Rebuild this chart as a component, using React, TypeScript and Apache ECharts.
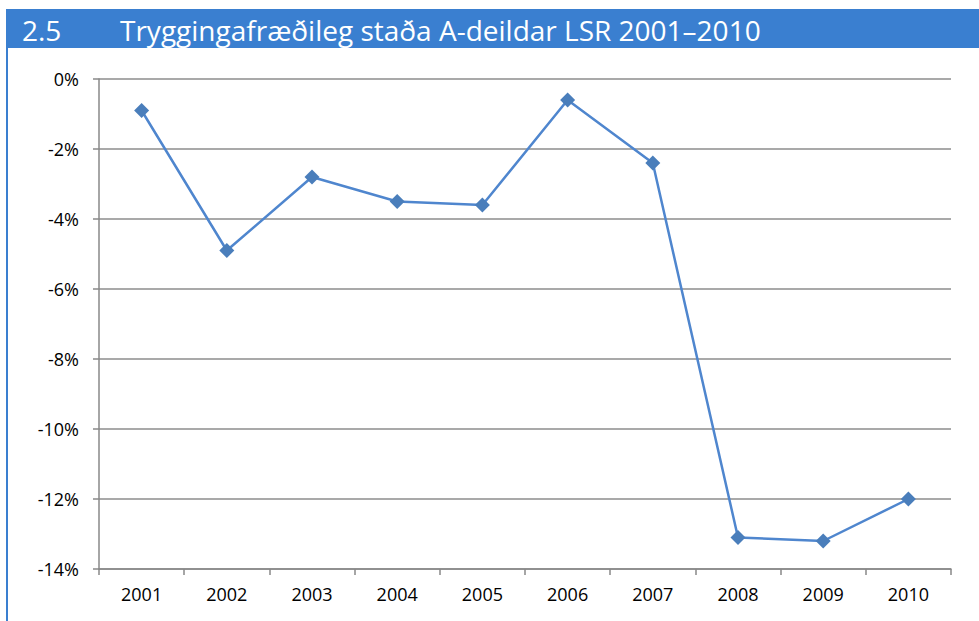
import React, { useEffect, useRef } from "react";
import * as echarts from "echarts";

const years = ["2001", "2002", "2003", "2004", "2005", "2006", "2007", "2008", "2009", "2010"];
const values = [-0.9, -4.9, -2.8, -3.5, -3.6, -0.6, -2.4, -13.1, -13.2, -12.0];
const titleNumber = "2.5";
const titleText = "Tryggingafræðileg staða A-deildar LSR 2001–2010";

const FONT = "'Open Sans', 'Noto Sans', sans-serif";

export default function App() {
  const ref = useRef<HTMLDivElement>(null);
  useEffect(() => {
    if (!ref.current) return;
    const chart = echarts.init(ref.current, undefined, { renderer: "svg" });
    chart.setOption({
      animation: false,
      backgroundColor: "#ffffff",
      grid: { left: 99, top: 79, right: 28, bottom: 52 },
      graphic: [
        { type: "rect", shape: { x: 6, y: 9, width: 973, height: 39 }, style: { fill: "#3A7FD0" } },
        { type: "rect", shape: { x: 6, y: 48, width: 2, height: 573 }, style: { fill: "#3A7FD0" } },
        { type: "text", x: 22, y: 30, style: { text: titleNumber, fill: "#ffffff", font: `28px ${FONT}`, textVerticalAlign: "middle" } },
        { type: "text", x: 120, y: 30, style: { text: titleText, fill: "#ffffff", font: `28px ${FONT}`, textVerticalAlign: "middle" } },
      ],
      xAxis: {
        type: "category",
        data: years,
        boundaryGap: true,
        axisLine: { onZero: false, lineStyle: { color: "#888888", width: 1.5 } },
        axisTick: { show: true, length: 6, lineStyle: { color: "#888888", width: 1.5 } },
        axisLabel: { color: "#000000", fontSize: 18, fontFamily: FONT, margin: 16 },
      },
      yAxis: {
        type: "value",
        min: -14,
        max: 0,
        interval: 2,
        axisLine: { show: true, lineStyle: { color: "#888888", width: 1.5 } },
        axisTick: { show: true, length: 6, lineStyle: { color: "#888888", width: 1.5 } },
        axisLabel: { color: "#000000", fontSize: 18, fontFamily: FONT, margin: 20, formatter: (v: number) => `${v}%` },
        splitLine: { lineStyle: { color: "#8c8c8c", width: 1.5 } },
      },
      series: [
        {
          type: "line",
          data: values,
          symbol: "diamond",
          symbolSize: 15,
          lineStyle: { color: "#4F86CE", width: 2.5 },
          itemStyle: { color: "#4A7EBB" },
        },
      ],
    });
    return () => chart.dispose();
  }, []);
  return <div ref={ref} style={{ position: "fixed", left: 0, top: 0, width: 979, height: 621 }} />;
}
